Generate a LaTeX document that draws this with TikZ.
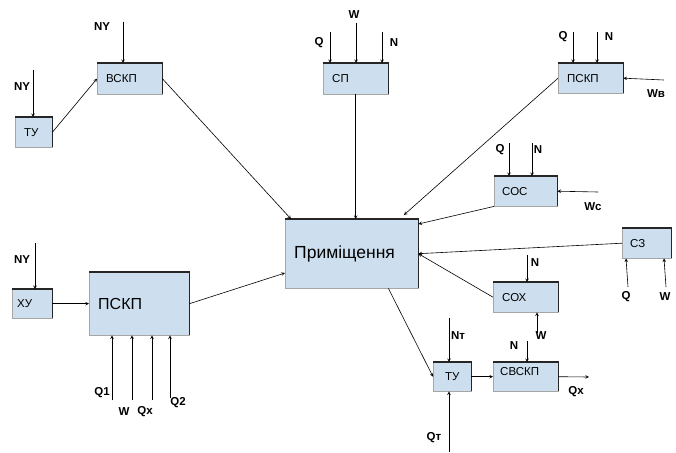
\documentclass[tikz,border=0pt]{standalone}
\usepackage{fontspec}
\setmainfont{Liberation Sans}
\usetikzlibrary{arrows,calc,positioning}
\definecolor{boxfill}{RGB}{205,223,238}
\tikzset{
	block/.style={rectangle,
		draw=gray!70,
		fill=boxfill,
		anchor=north west,
		inner xsep=9pt,
		align=left,
		font=\fontsize{11.5}{13}\selectfont,
		},
	bigblock/.style={block,
		font=\fontsize{17.5}{20}\selectfont,
		},
	shade edge/.style={draw=black!85, line width=1.4pt},
	flow/.style={->, >=stealth, line width=0.6pt},
	sig/.style={font=\bfseries\fontsize{11.5}{13}\selectfont},
}
\begin{document}
\begin{tikzpicture}[x=1pt,y=-1pt]
   \useasboundingbox (0,0) rectangle (676,452);

   % blocks
   \node[bigblock, text width=115pt, minimum height=69pt] (prim) at (285,219) {Приміщення};
   \node[block, text width=19pt, minimum height=30pt] (tyA) at (15,117) {ТУ};
   \node[block, text width=47pt, minimum height=31pt] (vskp) at (97,63) {ВСКП};
   \node[block, text width=47pt, minimum height=31pt] (sp) at (323,63) {СП};
   \node[block, text width=47pt, minimum height=30pt] (pskpB) at (558,63) {ПСКП};
   \node[block, inner xsep=8pt, text width=47pt, minimum height=30pt] (cos) at (494,176) {СОС};
   \node[block, inner xsep=8pt, text width=33pt, minimum height=30pt] (cz) at (622,228) {СЗ};
   \node[block, text width=47pt, minimum height=30pt] (cox) at (493,282) {СОХ};
   \node[block, inner xsep=12pt, text width=14pt, minimum height=29pt] (tyB) at (433,362) {ТУ};
   \node[block, inner xsep=7pt, text width=51pt, minimum height=29pt, text depth=10pt] (svskp) at (493,362) {СВСКП};
   \node[block, inner xsep=5pt, text width=30pt, minimum height=29pt] (xu) at (12,289) {ХУ};
   \node[bigblock, font=\fontsize{16}{18}\selectfont, text width=82pt, minimum height=63pt] (pskpA) at (89,272) {ПСКП};

   \foreach \b in {prim,tyA,vskp,sp,pskpB,cos,cz,cox,tyB,svskp,xu,pskpA}
      \draw[shade edge] (\b.north west) -- (\b.north east) -- (\b.south east);

   % signal labels
   \node[sig] (tyAN) at (22,87) {NY};
   \node[sig] (vskpN) at (102,27) {NY};
   \node[sig] (spQ) at (319,43) {Q};
   \node[sig] (spW) at (354,15) {W};
   \node[sig] (spN) at (394,43) {N};
   \node[sig] (pskpBQ) at (563,37) {Q};
   \node[sig] (pskpBN) at (609,37) {N};
   \node[sig] (pskpBW) at (656,94) {Wв};
   \node[sig] (cosQ) at (500,150) {Q};
   \node[sig] (cosN) at (538,150) {N};
   \node[sig] (cosW) at (593,207) {Wc};
   \node[sig] (czQ) at (626,297) {Q};
   \node[sig] (czW) at (665,297) {W};
   \node[sig] (coxN) at (535,263) {N};
   \node[sig] (coxW) at (541,336) {W};
   \node[sig] (tyBN) at (458,336) {Nт};
   \node[sig] (tyBQ) at (434,438) {Qт};
   \node[sig] (svskpN) at (514,346) {N};
   \node[sig] (svskpQ) at (576,392) {Qx};
   \node[sig] (xuN) at (22,260) {NY};
   \node[sig] (pskpAQ1) at (102,393) {Q1};
   \node[sig] (pskpAW) at (124,412) {W};
   \node[sig] (pskpAQx) at (145,412) {Qx};
   \node[sig] (pskpAQ2) at (178,403) {Q2};

   % free ends of the inputs
   \foreach \c/\x/\y in {tyAi/33/70, vskpi/123/22, spQi/330/32, spWi/356/23, spNi/382/32,
      pskpBQi/573/32, pskpBNi/597/32, pskpBWi/664/80, cosQi/509/143, cosNi/532/143,
      cosWi/598/192, czQi/628/287, czWi/666/287, coxNi/527/255, coxWi/537/333,
      tyBNi/449/318, tyBQi/449/452, svskpNi/527/341, svskpQo/589/377, xui/35/243,
      pskpAQ1i/112/400, pskpAWi/132/400, pskpAQxi/152/400, pskpAQ2i/170/398}
      \coordinate (\c) at (\x,\y);

   % inputs from above
   \foreach \c/\b in {tyAi/tyA, vskpi/vskp, spQi/sp, spWi/sp, spNi/sp, pskpBQi/pskpB,
      pskpBNi/pskpB, cosQi/cos, cosNi/cos, coxNi/cox, tyBNi/tyB, svskpNi/svskp, xui/xu}
      \draw[flow] (\c) -- (\c |- \b.north);
   % inputs from below
   \foreach \c/\b in {coxWi/cox, tyBQi/tyB, pskpAQ1i/pskpA, pskpAWi/pskpA,
      pskpAQxi/pskpA, pskpAQ2i/pskpA}
      \draw[flow] (\c) -- (\c |- \b.south);
   \draw[flow] (czQi) -- ($(czQi |- cz.south)+(-2,0)$);
   \draw[flow] (czWi) -- ($(czWi |- cz.south)+(-2,0)$);
   \draw[flow] (pskpBWi) -- (pskpB.east);
   \draw[flow] (cosWi) -- (cos.east);
   \draw[flow] (svskp.east) -- (svskpQo);

   % links between blocks
   \draw[flow] (tyA.east) -- (vskp.west);
   \draw[flow] (vskp.east) -- ([xshift=6pt]prim.north west);
   \draw[flow] (sp.south) -- (sp.south |- prim.north);
   \draw[flow, shorten >=6pt] (pskpB.west) -- ([xshift=-19pt]prim.north east);
   \draw[flow] (cos.south west) -- ([yshift=-5pt]prim.north east);
   \draw[flow] (cz.west) -- (prim.east);
   \draw[flow] (cox.west) -- (prim.east);
   \draw[flow] ([xshift=-30pt]prim.south east) -- (tyB.west);
   \draw[flow] (tyB.east) -- (svskp.west);
   \draw[flow] (xu.east) -- (pskpA.west);
   \draw[flow] (pskpA.east) -- ([yshift=-54pt]prim.north west);
\end{tikzpicture}
\end{document}
